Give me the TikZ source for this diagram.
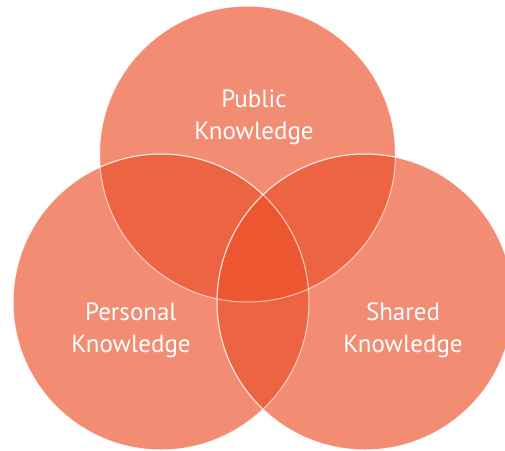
\documentclass[tikz,border=0pt]{standalone}
\usepackage{fontspec}
\setmainfont{PT Sans}
\begin{document}
\begin{tikzpicture}[x=1pt,y=-1pt,
  setcircle/.style={circle, minimum size=296pt, inner sep=0pt,
    fill={rgb,255:red,235;green,78;blue,40}, fill opacity=0.65,
    draw=white, draw opacity=0.6, line width=1pt},
  setlabel/.style={text=white, align=center, font=\fontsize{25}{32}\selectfont}]
  \useasboundingbox (0,0) rectangle (505,450);
  % the three overlapping knowledge sets
  \node[setcircle] (public) at (247.5,154) {};
  \node[setcircle] (personal) at (161,302) {};
  \node[setcircle] (shared) at (365,302) {};
  % outlines again on top so every edge stays visible
  \foreach \c in {public,personal,shared}
    \draw[white, opacity=0.6, line width=1pt] (\c.center) circle[radius=148];
  % labels (base anchor sits on the last line)
  \node[setlabel, anchor=base] (publiclbl) at (254,139) {Public\\Knowledge};
  \node[setlabel, anchor=base] (personallbl) at (131,352) {Personal\\Knowledge};
  \node[setlabel, anchor=base] (sharedlbl) at (403,352) {Shared\\Knowledge};
\end{tikzpicture}
\end{document}
